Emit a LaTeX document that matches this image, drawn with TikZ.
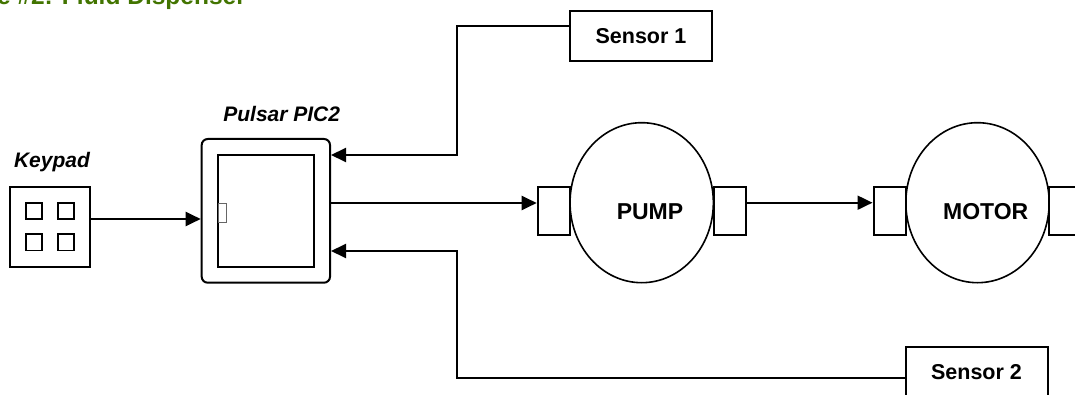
\documentclass[tikz,border=0pt]{standalone}
\usepackage{fontspec}
\setmainfont{Liberation Sans}
\usetikzlibrary{shapes.geometric,arrows.meta,calc}
\definecolor{titlegreen}{RGB}{66,116,0}
\begin{document}
\begin{tikzpicture}[x=1pt,y=-1pt,
  box/.style={draw=black,line width=2pt,inner sep=0pt,fill=white},
  port/.style={box,minimum width=32.3pt,minimum height=48.3pt},
  body/.style={draw=black,line width=1.6pt,ellipse,inner sep=0pt,minimum width=143.3pt,minimum height=160pt},
  sens/.style={box,minimum width=142pt,minimum height=50.3pt,font=\bfseries\fontsize{21.5}{24}\selectfont},
  lbl/.style={font=\bfseries\itshape\fontsize{21}{24}\selectfont,inner sep=0pt},
  big/.style={font=\bfseries\fontsize{23}{26}\selectfont,inner sep=0pt},
  conn/.style={line width=2pt,-{Triangle[length=15pt,width=14pt]}},
  wire/.style={line width=2pt}]
\useasboundingbox (0,0) rectangle (1075,395);
% title (cut by the top edge)
\node[anchor=base east,text=titlegreen,inner sep=0pt,font=\bfseries\fontsize{24.5}{26}\selectfont] (title) at (246,4.5) {Example \#2: Fluid Dispenser};
% keypad
\node[box,minimum width=80pt,minimum height=80pt] (kp) at (50,226.7) {};
\node[box,line width=1.8pt,minimum width=16pt,minimum height=16.3pt] (k1) at (34,210.8) {};
\node[box,line width=1.8pt,minimum width=16pt,minimum height=16.3pt] (k2) at (65.8,210.8) {};
\node[box,line width=1.8pt,minimum width=16pt,minimum height=16.3pt] (k3) at (34,242.3) {};
\node[box,line width=1.8pt,minimum width=16pt,minimum height=16.3pt] (k4) at (65.8,242.3) {};
\node[lbl] (kplbl) at (52,161.7) {Keypad};
% PIC
\node[box,rounded corners=6pt,minimum width=128.3pt,minimum height=143.7pt] (pic) at (265.85,210.85) {};
\node[box,minimum width=96.6pt,minimum height=111.7pt] (picin) at (266,210.85) {};
\node[draw=black!60,line width=1pt,inner sep=0pt,minimum width=7.7pt,minimum height=19pt] (picport) at (222.2,212.8) {};
\node[lbl] (piclbl) at (281.7,114) {Pulsar PIC2};
% pump
\node[body] (pump) at (641.7,202.7) {};
\node[port] (pumpL) at (553.85,210.85) {};
\node[port] (pumpR) at (729.65,210.85) {};
\node[big] (pumptxt) at (650,211.7) {PUMP};
% motor
\node[body] (motor) at (977.5,202.7) {};
\node[port] (motorL) at (889.65,210.85) {};
\node[port] (motorR) at (1065.35,210.85) {};
\node[big] (motortxt) at (985.7,211.7) {MOTOR};
% sensors
\node[sens] (s1) at (641,35.85) {Sensor 1};
\node[sens] (s2) at (976.5,372.5) {Sensor 2};
% wiring
\coordinate (j1a) at (457.3,26);
\coordinate (j1b) at (457.3,155);
\coordinate (j2a) at (457.3,378.3);
\coordinate (j2b) at (457.3,251);
\draw[conn] (kp.east |- 0,219) -- (pic.west |- 0,219);
\draw[conn] (s1.west |- j1a) -- (j1a) -- (j1b) -- (pic.east |- j1b);
\draw[conn] (s2.west |- j2a) -- (j2a) -- (j2b) -- (pic.east |- j2b);
\draw[conn] (pic.east |- 0,203) -- (pumpL.west |- 0,203);
\draw[conn] (pumpR.east |- 0,202.7) -- (motorL.west |- 0,202.7);
\end{tikzpicture}
\end{document}
